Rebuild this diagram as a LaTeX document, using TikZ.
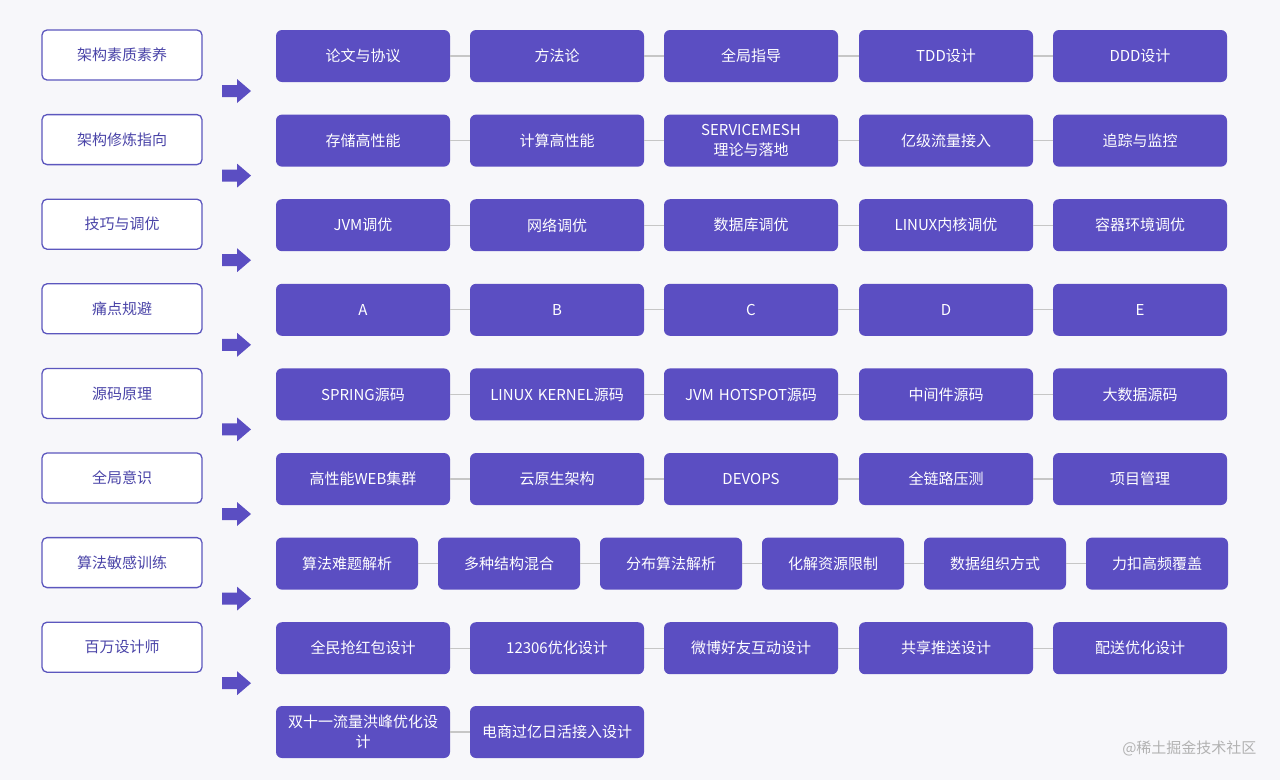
\documentclass[tikz,border=0pt]{standalone}
\usepackage{fontspec}
\setmainfont{Noto Sans CJK SC}
\definecolor{pu}{HTML}{5B4EC2}
\definecolor{lb}{HTML}{5C57BE}
\definecolor{lt}{HTML}{4A44A8}
\definecolor{bgc}{HTML}{F7F7FA}
\begin{document}
\begin{tikzpicture}[x=1pt,y=-1pt,
  lbox/.style={draw=lb,line width=1.3pt,fill=white,rounded corners=5pt,minimum width=160pt,minimum height=50pt,font=\fontsize{15}{17}\selectfont,text=lt},
  pbox/.style={fill=pu,rounded corners=6pt,minimum width=174pt,minimum height=52pt,text=white,font=\fontsize{15}{17}\selectfont,align=center,inner sep=1pt,text width=170pt},
  sbox/.style={pbox,minimum width=142pt,text width=138pt},
  link/.style={draw=gray!45,line width=1.2pt},
  bigarrow/.style={fill=pu}]
\fill[bgc] (0,0) rectangle (1280,780);
\useasboundingbox (0,0) rectangle (1280,780);
% left boxes and arrows
\foreach \i/\t in {0/架构素质素养,1/架构修炼指向,2/技巧与调优,3/痛点规避,4/源码原理,5/全局意识,6/算法敏感训练,7/百万设计师}{
  \node[lbox] (L\i) at (122,{55+84.6*\i}) {\t};
  \fill[bigarrow] (222,{85+84.6*\i}) -- (237,{85+84.6*\i}) -- (237,{79+84.6*\i}) -- (251,{91+84.6*\i}) -- (237,{103+84.6*\i}) -- (237,{97+84.6*\i}) -- (222,{97+84.6*\i}) -- cycle;
}
% five-box rows
\newcommand{\prow}[6]{%
  \node[pbox] (R#1a) at (363,{56+84.6*#1}) {#2};
  \node[pbox] (R#1b) at (557,{56+84.6*#1}) {#3};
  \node[pbox] (R#1c) at (751,{56+84.6*#1}) {#4};
  \node[pbox] (R#1d) at (946,{56+84.6*#1}) {#5};
  \node[pbox] (R#1e) at (1140,{56+84.6*#1}) {#6};
  \draw[link] (R#1a) -- (R#1b); \draw[link] (R#1b) -- (R#1c);
  \draw[link] (R#1c) -- (R#1d); \draw[link] (R#1d) -- (R#1e);}
\prow{0}{论文与协议}{方法论}{全局指导}{TDD设计}{DDD设计}
\prow{1}{存储高性能}{计算高性能}{SERVICEMESH\\[3pt]理论与落地}{亿级流量接入}{追踪与监控}
\prow{2}{JVM调优}{网络调优}{数据库调优}{LINUX内核调优}{容器环境调优}
\prow{3}{A}{B}{C}{D}{E}
\prow{4}{SPRING源码}{LINUX KERNEL源码}{JVM HOTSPOT源码}{中间件源码}{大数据源码}
\prow{5}{高性能WEB集群}{云原生架构}{DEVOPS}{全链路压测}{项目管理}
\prow{7}{全民抢红包设计}{12306优化设计}{微博好友互动设计}{共享推送设计}{配送优化设计}
% six-box row
\foreach \k/\x/\t in {a/347/算法难题解析,b/509/多种结构混合,c/671/分布算法解析,d/833/化解资源限制,e/995/数据组织方式,f/1157/力扣高频覆盖}{
  \node[sbox] (R6\k) at (\x,{56+84.6*6}) {\t};
}
\draw[link] (R6a) -- (R6b); \draw[link] (R6b) -- (R6c); \draw[link] (R6c) -- (R6d);
\draw[link] (R6d) -- (R6e); \draw[link] (R6e) -- (R6f);
% last row
\node[pbox] (R8a) at (363,732) {双十一流量洪峰优化设\\[3pt]计};
\node[pbox] (R8b) at (557,732) {电商过亿日活接入设计};
\draw[link] (R8a) -- (R8b);
\node[text=gray!60,font=\fontsize{15}{17}\selectfont,anchor=east] (wm) at (1260,748) {@稀土掘金技术社区};
\end{tikzpicture}
\end{document}
